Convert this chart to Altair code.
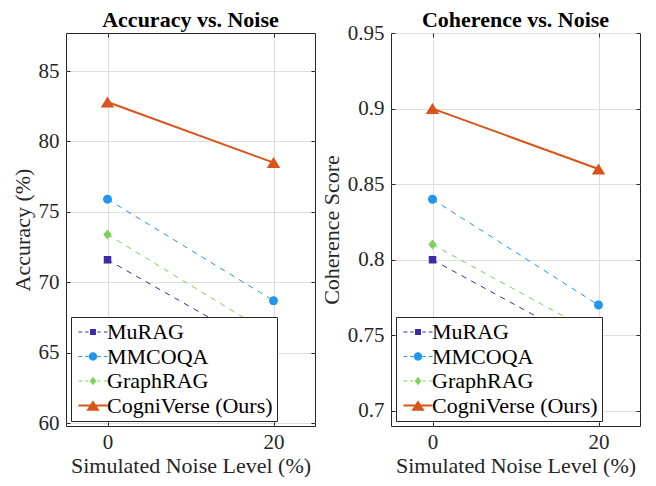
import altair as alt
import pandas as pd

methods = ["MuRAG", "MMCOQA", "GraphRAG", "CogniVerse (Ours)"]
noise_levels = [0, 20]

acc_murag = [71.6, 64.9]
acc_mmcoqa = [75.9, 68.7]
acc_graphrag = [73.4, 66.2]
acc_cogni = [82.8, 78.5]

coh_murag = [0.80, 0.74]
coh_mmcoqa = [0.84, 0.77]
coh_graphrag = [0.81, 0.75]
coh_cogni = [0.90, 0.86]

acc_ticks = [60, 65, 70, 75, 80, 85]
coh_ticks = [0.70, 0.75, 0.80, 0.85, 0.90, 0.95]

colors = ["#3a2ba6", "#2196f0", "#7fd05c", "#d9531a"]

# marker paths (chart), unit = 4px at size 64
marker_paths = [
    "M-0.94,-0.94 L0.94,-0.94 L0.94,0.94 L-0.94,0.94 Z",
    "M-1.12,0 A1.12,1.12 0 1,0 1.12,0 A1.12,1.12 0 1,0 -1.12,0 Z",
    "M0,-1.25 L1.06,0 L0,1.25 L-1.06,0 Z",
    "M0,-1.375 L1.69,1.375 L-1.69,1.375 Z",
]

def dashes(t):
    return ("M-2.15,-{t} L-1.6,-{t} L-1.6,{t} L-2.15,{t} Z "
            "M-1.15,-{t} L-0.65,-{t} L-0.65,{t} L-1.15,{t} Z "
            "M0.65,-{t} L1.15,-{t} L1.15,{t} L0.65,{t} Z "
            "M1.6,-{t} L2.15,-{t} L2.15,{t} L1.6,{t} Z ").format(t=t)

legend_paths = [
    dashes(0.08) + "M-0.44,-0.44 L0.44,-0.44 L0.44,0.44 L-0.44,0.44 Z",
    dashes(0.08) + "M-0.62,0 A0.62,0.62 0 1,0 0.62,0 A0.62,0.62 0 1,0 -0.62,0 Z",
    dashes(0.08) + "M0,-0.62 L0.5,0 L0,0.62 L-0.5,0 Z",
    "M-2.15,-0.15 L2.15,-0.15 L2.15,0.15 L-2.15,0.15 Z M0,-0.79 L0.99,0.79 L-0.99,0.79 Z",
]

FONT = "Liberation Serif"


def make_df(series):
    rows = []
    for m, vals in zip(methods, series):
        for n, v in zip(noise_levels, vals):
            rows.append({"Noise": n, "Value": v, "Method": m})
    return pd.DataFrame(rows)


def panel(df, title, title_dy, ytitle, ydom, yvals, yfmt):
    base = alt.Chart(df)
    xs = alt.Scale(domain=[-5, 25], nice=False, zero=False)
    ys = alt.Scale(domain=ydom, nice=False, zero=False)

    ax_bottom = alt.Axis(orient="bottom", values=noise_levels, offset=-4, tickSize=4,
                         domain=False, grid=True, title="Simulated Noise Level (%)",
                         labelPadding=5, titlePadding=3)
    ax_left = alt.Axis(orient="left", values=yvals, format=yfmt, offset=-4, tickSize=4,
                       domain=False, grid=True, title=ytitle, labelPadding=7, titlePadding=4)
    ax_top = alt.Axis(orient="top", values=noise_levels, offset=-4, tickSize=4,
                      domain=False, grid=False, labels=False, title=None)
    ax_right = alt.Axis(orient="right", values=yvals, offset=-4, tickSize=4,
                        domain=False, grid=False, labels=False, title=None)

    layers = []
    for i, m in enumerate(methods[:3]):
        if i == 0:
            enc = dict(x=alt.X("Noise:Q", scale=xs, axis=ax_bottom),
                       y=alt.Y("Value:Q", scale=ys, axis=ax_left))
        else:
            enc = dict(x=alt.X("Noise:Q", axis=None), y=alt.Y("Value:Q", axis=None))
        layers.append(
            base.transform_filter(alt.datum.Method == m).mark_line(
                strokeWidth=1, strokeDash=[5.5, 5.5], color=colors[i]
            ).encode(**enc)
        )
    layers.append(
        base.transform_filter(alt.datum.Method == methods[3]).mark_line(
            strokeWidth=2, color=colors[3]
        ).encode(
            x=alt.X("Noise:Q", scale=xs, axis=ax_top),
            y=alt.Y("Value:Q", scale=ys, axis=ax_right),
        )
    )
    for m, p, c in zip(methods, marker_paths, colors):
        layers.append(
            base.transform_filter(alt.datum.Method == m).mark_point(
                shape=p, filled=True, size=64, opacity=1, color=c
            ).encode(
                x=alt.X("Noise:Q", axis=None),
                y=alt.Y("Value:Q", axis=None),
            )
        )
    leg = alt.Legend(
        orient="bottom-left", offset=5, title=None,
        strokeColor="#262626", fillColor="white", padding=4,
        labelFont=FONT, labelFontSize=22, labelColor="black", labelLimit=0,
        symbolSize=182, symbolOffset=7, labelOffset=3, rowPadding=2.5,
        symbolStrokeWidth=0, symbolOpacity=1,
    )
    layers.append(
        base.transform_filter("false").mark_point(filled=True, opacity=1).encode(
            x=alt.X("Noise:Q", axis=None),
            y=alt.Y("Value:Q", axis=None),
            color=alt.Color("Method:N", scale=alt.Scale(domain=methods, range=colors), legend=leg),
            shape=alt.Shape("Method:N", scale=alt.Scale(domain=methods, range=legend_paths), legend=leg),
        )
    )
    return alt.layer(*layers).resolve_axis(
        x="independent", y="independent"
    ).properties(width=249, height=393, title=alt.Title(title, dy=title_dy))


acc_df = make_df([acc_murag, acc_mmcoqa, acc_graphrag, acc_cogni])
coh_df = make_df([coh_murag, coh_mmcoqa, coh_graphrag, coh_cogni])

left = panel(acc_df, "Accuracy vs. Noise", 0, "Accuracy (%)", [59.8, 87.7], acc_ticks, "d")
right = panel(coh_df, "Coherence vs. Noise", 11, "Coherence Score", [0.69, 0.95], coh_ticks, "~g")

chart = alt.hconcat(left, right, spacing=3).resolve_scale(
    color="independent", shape="independent"
).resolve_legend(
    color="independent", shape="independent"
).properties(
    padding={"left": 2, "top": 0, "right": 0, "bottom": 0}
).configure_view(
    stroke="#262626", strokeWidth=1
).configure_axis(
    labelFont=FONT, labelFontSize=21, labelColor="#262626",
    titleFont=FONT, titleFontSize=22, titleFontWeight="normal", titleColor="#262626",
    tickColor="#262626", tickWidth=1, gridColor="#dedede", gridWidth=1,
).configure_title(
    font=FONT, fontSize=22, fontWeight="bold", color="black", anchor="middle", offset=1
)

chart.save("out.html", embed_options={"renderer": "svg", "actions": False})
